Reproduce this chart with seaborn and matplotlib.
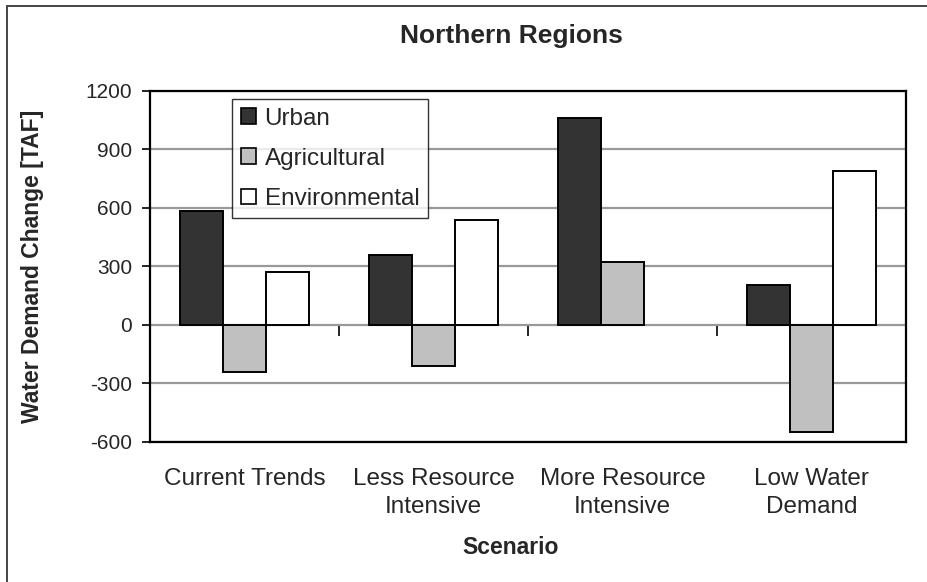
import matplotlib
matplotlib.use("Agg")
import matplotlib.pyplot as plt
import seaborn as sns
import numpy as np
import pandas as pd
from matplotlib.patches import Patch, Rectangle

scenarios = ["Current Trends", "Less Resource\nIntensive", "More Resource\nIntensive", "Low Water\nDemand"]
series = ["Urban", "Agricultural", "Environmental"]
urban = [585, 360, 1060, 205]
agricultural = [-240, -210, 320, -550]
environmental = [270, 535, np.nan, 790]
colors = ["#333333", "#C0C0C0", "#FFFFFF"]
yticks = [-600, -300, 0, 300, 600, 900, 1200]

rows = []
for name, vals in zip(series, [urban, agricultural, environmental]):
    for sc, v in zip(scenarios, vals):
        rows.append({"Scenario": sc, "Type": name, "Value": v})
df = pd.DataFrame(rows)

sns.set_theme(style="white")
plt.rcParams["font.family"] = ["Liberation Sans", "DejaVu Sans"]

fig = plt.figure(figsize=(9.28, 5.82), dpi=100)
ax = fig.add_axes([150/928, 1-441.7/582, 756/928, 351/582])

sns.barplot(data=df, x="Scenario", y="Value", hue="Type", order=scenarios,
            hue_order=series, palette=colors, width=0.683, gap=0,
            edgecolor="black", linewidth=1.4, saturation=1, legend=False,
            errorbar=None, ax=ax)

ax.set_ylim(-600, 1200)
ax.set_xlim(-0.5, 3.5)
ax.set_yticks(yticks)
ax.set_yticklabels([str(t) for t in yticks], fontsize=15)
ax.yaxis.grid(True, color="#999999", linewidth=1.6)
ax.set_axisbelow(True)
for s in ax.spines.values():
    s.set_visible(True)
    s.set_color("black")
    s.set_linewidth(1.6)
ax.tick_params(axis="y", left=True, length=6, width=1.2, color="black", pad=7)
ax.tick_params(axis="x", bottom=False, length=0, pad=19)
ax.set_xticks(range(len(scenarios)))
ax.set_xticklabels(scenarios, fontsize=17.5, linespacing=1.35)
ax.set_xlabel("Scenario", fontsize=16.5, fontweight="bold", va="center")
ax.xaxis.set_label_coords((511-150)/756, (441.7-547)/351)
ax.set_ylabel("Water Demand Change [TAF]", fontsize=16.5, fontweight="bold", va="center")
ax.yaxis.set_label_coords((33-150)/756, 0.5)

# category axis crossing at zero
sec = ax.secondary_xaxis(1/3)
sec.set_xticks([0.5, 1.5, 2.5])
sec.set_xticklabels([])
sec.tick_params(axis="x", direction="out", length=8, width=1.2, color="black")
sec.spines["bottom"].set_linewidth(1.4)
sec.spines["bottom"].set_color("black")

handles = [Patch(facecolor=c, edgecolor="black", linewidth=1.2, label=s) for c, s in zip(colors, series)]
leg = fig.legend(handles=handles, loc="upper left", bbox_to_anchor=(232/928, 1-99/582),
                 bbox_transform=fig.transFigure, fontsize=17.5, frameon=True, fancybox=False,
                 handlelength=0.62, handleheight=0.62, handletextpad=0.37, labelspacing=0.75,
                 borderpad=0.35, borderaxespad=0)
leg.get_frame().set_edgecolor("black")
leg.get_frame().set_linewidth(1.0)

fig.text(511/928, 1-36/582, "Northern Regions", ha="center", va="center",
         fontsize=19, fontweight="bold")

fig.patches.append(Rectangle((7/928, -0.1), 2, 1.1 - 6/582, transform=fig.transFigure,
                             fill=False, edgecolor="#444444", linewidth=1.4))

fig.savefig("out.png", dpi=100)
